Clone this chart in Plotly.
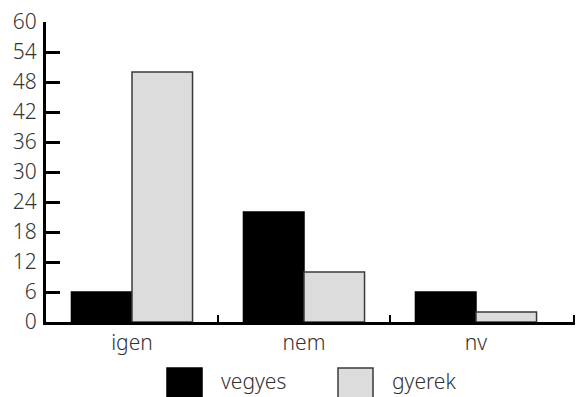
import plotly.graph_objects as go

categories = ["igen", "nem", "nv"]
series_names = ["vegyes", "gyerek"]
vegyes = [6, 22, 6]
gyerek = [50, 10, 2]
y_ticks = [0, 6, 12, 18, 24, 30, 36, 42, 48, 54, 60]

fills = ["#000000", "#dcdcdc"]
lines = ["#000000", "#3a3a3a"]

W, H = 576, 397
ML, MR, MT, MB = 46, 1, 22, 75
pw = W - ML - MR
ph = H - MT - MB
cat_px = 172
x_end = -0.5 + pw / cat_px

fig = go.Figure()
for name, vals, fc, lc in zip(series_names, [vegyes, gyerek], fills, lines):
    fig.add_trace(go.Bar(
        x=list(range(len(categories))), y=vals, name=name,
        marker=dict(color=fc, line=dict(color=lc, width=1.5)),
        showlegend=False,
    ))

font = dict(family="Noto Sans", size=21, color="#333333", weight=300)

fig.update_layout(
    width=W, height=H,
    margin=dict(l=ML, r=MR, t=MT, b=MB, pad=0, autoexpand=False),
    paper_bgcolor="white", plot_bgcolor="white",
    barmode="group", bargap=0.296, bargroupgap=0,
    font=font,
    xaxis=dict(
        range=[-0.5, x_end], tickmode="array",
        tickvals=list(range(len(categories))), ticktext=categories,
        ticks="", showgrid=False, zeroline=False, automargin=False,
        showline=True, linecolor="black", linewidth=2.5,
        minor=dict(tickmode="array", tickvals=[0.5, 1.5, x_end - 0.005],
                   ticks="inside", ticklen=7, tickwidth=2, tickcolor="black",
                   showgrid=False),
        tickfont=font, ticklabelstandoff=0,
    ),
    yaxis=dict(
        range=[0, 60], tickmode="array", tickvals=y_ticks,
        ticks="inside", ticklen=14, tickwidth=3, tickcolor="black",
        showgrid=False, zeroline=False, automargin=False,
        showline=True, linecolor="black", linewidth=3,
        tickfont=font, ticklabelstandoff=2,
    ),
)

# legend drawn below the plot
def px_x(x):
    return (x - ML) / pw

def px_y(y):
    return (H - MB - y) / ph

leg_x = [167, 338]
for name, fc, lc, lx in zip(series_names, fills, lines, leg_x):
    fig.add_shape(type="rect", xref="paper", yref="paper",
                  x0=px_x(lx), x1=px_x(lx + 35), y0=px_y(368), y1=px_y(400),
                  fillcolor=fc, line=dict(color=lc, width=1.5))
    fig.add_annotation(xref="paper", yref="paper", x=px_x(lx + 52), y=px_y(381),
                       text=name, showarrow=False, xanchor="left", yanchor="middle",
                       font=font)

fig.write_html("out.html", config={"displayModeBar": False},
               post_script="document.body.style.margin='0';document.body.style.overflow='hidden';")
